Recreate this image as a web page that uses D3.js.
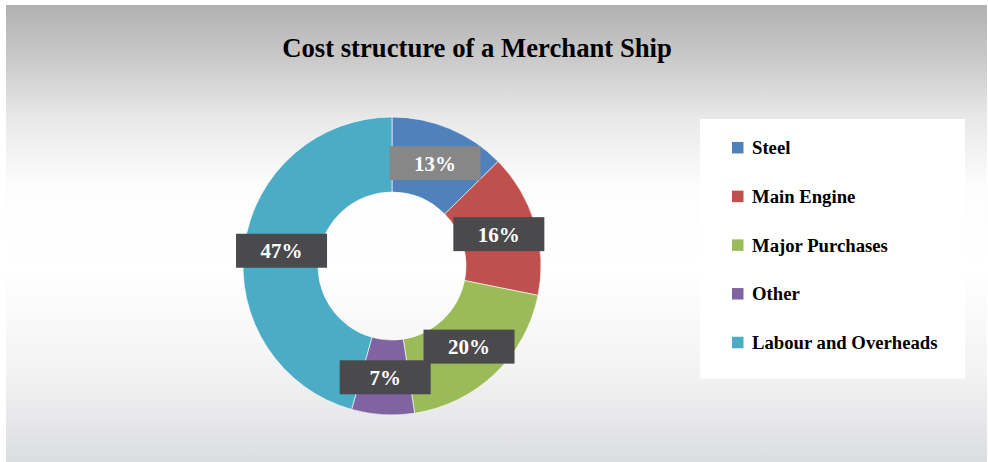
<!DOCTYPE html>
<html>
<head>
<meta charset="utf-8">
<script src="https://cdn.jsdelivr.net/npm/d3@7"></script>
<style>
  html, body { margin: 0; padding: 0; background: #ffffff; }
  svg { display: block; }
  text { font-family: "Liberation Serif", "Times New Roman", serif; font-weight: bold; }
</style>
</head>
<body>
<svg id="chart" width="988" height="462"></svg>
<script>
// Cost shares (percent) of a merchant ship
const categories = ["Steel", "Main Engine", "Major Purchases", "Other", "Labour and Overheads"];
const shares = [13, 16, 20, 7, 47];
const palette = ["#4f81bd", "#c0504d", "#9bbb59", "#8064a2", "#4bacc6"];
const chartTitle = "Cost structure of a Merchant Ship";

const W = 988, H = 462;
const svg = d3.select("#chart");

// Vertical grey-white-grey backdrop
const defs = svg.append("defs");
const grad = defs.append("linearGradient")
  .attr("id", "bg").attr("x1", 0).attr("y1", 0).attr("x2", 0).attr("y2", 1);
[[0, "#b2b1b2"], [0.12, "#cbcacb"], [0.25, "#e9e9e9"], [0.4, "#fdfdfd"], [0.58, "#ffffff"],
 [0.8, "#f3f3f3"], [1, "#dcdde0"]].forEach(([o, c]) =>
  grad.append("stop").attr("offset", o).attr("stop-color", c));

svg.append("rect")
  .attr("x", 6).attr("y", 5).attr("width", W - 7).attr("height", H - 5)
  .attr("fill", "url(#bg)");

// Title
svg.append("text")
  .attr("x", 477).attr("y", 56.5)
  .attr("text-anchor", "middle")
  .attr("font-size", 26.7)
  .attr("fill", "#000")
  .text(chartTitle);

// Donut
const cx = 392, cy = 266, rOuter = 149, rInner = 74;
const color = d3.scaleOrdinal().domain(categories).range(palette);
const pie = d3.pie().sort(null).value(d => d.value);
const arcs = pie(categories.map((c, i) => ({ name: c, value: shares[i] })));
const arc = d3.arc().innerRadius(rInner).outerRadius(rOuter);

const g = svg.append("g").attr("transform", `translate(${cx},${cy})`);
g.selectAll("path.slice")
  .data(arcs)
  .join("path")
  .attr("class", "slice")
  .attr("d", arc)
  .attr("fill", d => color(d.data.name))
  .attr("stroke", "#ffffff")
  .attr("stroke-width", 0.6);

// Value labels in boxes at the slice centroids
const boxW = 91, boxH = 34;
const lab = g.selectAll("g.lab")
  .data(arcs)
  .join("g")
  .attr("class", "lab")
  .attr("transform", d => {
    const [x, y] = arc.centroid(d);
    return `translate(${x},${y})`;
  });
lab.append("rect")
  .attr("x", -boxW / 2).attr("y", -boxH / 2)
  .attr("width", boxW).attr("height", boxH)
  .attr("fill", (d, i) => i === 0 ? "#878787" : "#4a4a4c");
lab.append("text")
  .attr("text-anchor", "middle")
  .attr("y", 7.5)
  .attr("font-size", 21)
  .attr("fill", "#ffffff")
  .text(d => d.data.value + "%");

// Legend
const legend = svg.append("g");
legend.append("rect")
  .attr("x", 700).attr("y", 119).attr("width", 265).attr("height", 259.5)
  .attr("fill", "#ffffff");
const rowY = d3.scalePoint().domain(categories).range([147.7, 342.5]);
const items = legend.selectAll("g.item")
  .data(categories)
  .join("g")
  .attr("class", "item")
  .attr("transform", d => `translate(0,${rowY(d)})`);
items.append("rect")
  .attr("x", 732).attr("y", -5.75).attr("width", 11.5).attr("height", 11.5)
  .attr("fill", d => color(d));
items.append("text")
  .attr("x", 752).attr("y", 6.6)
  .attr("font-size", 18.7)
  .attr("fill", "#000")
  .text(d => d);
</script>
</body>
</html>
